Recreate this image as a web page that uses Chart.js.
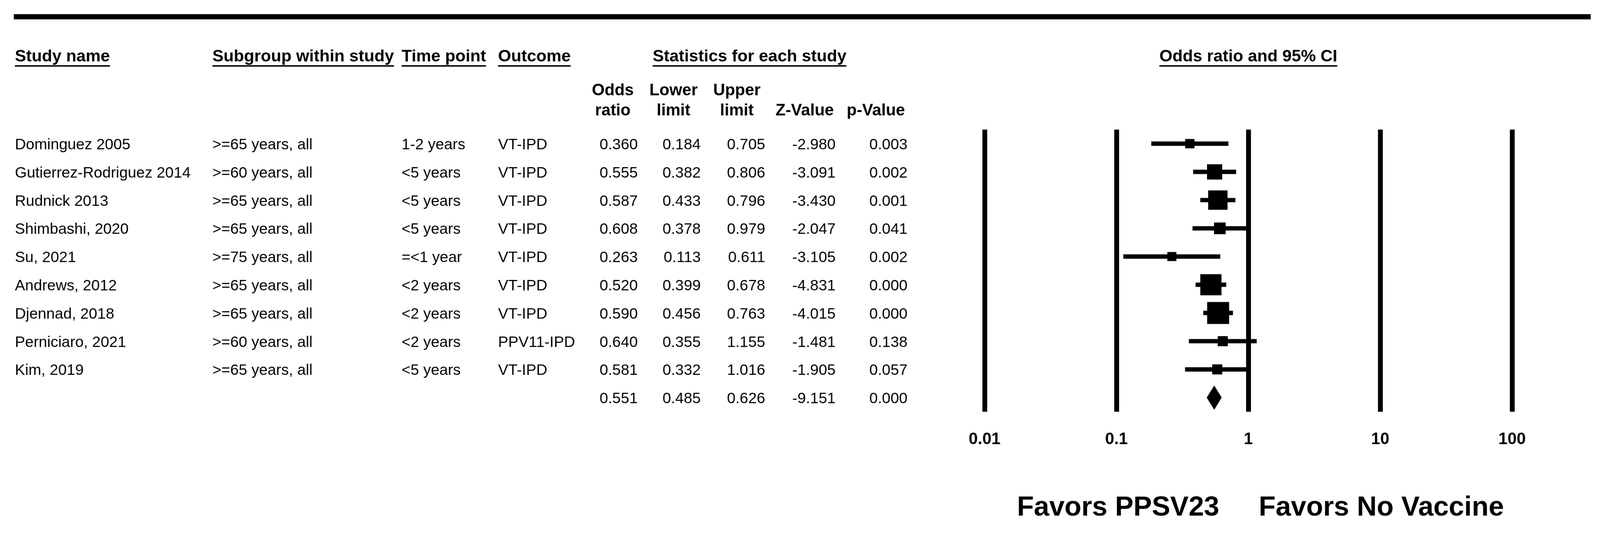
<!DOCTYPE html>
<html lang="en">
<head>
<meta charset="UTF-8">
<title>Odds ratio and 95% CI</title>
<script src="https://cdn.jsdelivr.net/npm/chart.js"></script>
<style>
    html, body {
        margin: 0;
        padding: 0;
        overflow: hidden;
        background: #fff;
    }
    canvas {
        display: block;
    }
</style>
</head>
<body>
<!-- inline size so Chart.js keeps it: fill the width, keep the 4295x1419 proportions -->
<canvas id="forest" width="4295" height="1419" style="width:100vw;height:calc(100vw * 1419 / 4295)"></canvas>
<script>
    // study rows, top to bottom
    var studies = ['Dominguez 2005', 'Gutierrez-Rodriguez 2014', 'Rudnick 2013', 'Shimbashi, 2020', 'Su, 2021',
        'Andrews, 2012', 'Djennad, 2018', 'Perniciaro, 2021', 'Kim, 2019'];
    var subgroups = ['>=65 years, all', '>=60 years, all', '>=65 years, all', '>=65 years, all', '>=75 years, all',
        '>=65 years, all', '>=65 years, all', '>=60 years, all', '>=65 years, all'];
    var timePoints = ['1-2 years', '<5 years', '<5 years', '<5 years', '=<1 year',
        '<2 years', '<2 years', '<2 years', '<5 years'];
    var outcomes = ['VT-IPD', 'VT-IPD', 'VT-IPD', 'VT-IPD', 'VT-IPD', 'VT-IPD', 'VT-IPD', 'PPV11-IPD', 'VT-IPD'];
    var oddsRatio = [0.360, 0.555, 0.587, 0.608, 0.263, 0.520, 0.590, 0.640, 0.581];
    var lowerLimit = [0.184, 0.382, 0.433, 0.378, 0.113, 0.399, 0.456, 0.355, 0.332];
    var upperLimit = [0.705, 0.806, 0.796, 0.979, 0.611, 0.678, 0.763, 1.155, 1.016];
    var zValue = [-2.980, -3.091, -3.430, -2.047, -3.105, -4.831, -4.015, -1.481, -1.905];
    var pValue = [0.003, 0.002, 0.001, 0.041, 0.002, 0.000, 0.000, 0.138, 0.057];
    // relative weight (box area)
    var relWeight = [0.18, 0.48, 0.78, 0.28, 0.17, 0.93, 1.00, 0.21, 0.21];
    // pooled row: odds ratio, lower, upper, Z, p
    var pooled = [0.551, 0.485, 0.626, -9.151, 0.000];

    var tickValues = [0.01, 0.1, 1, 10, 100];
    var tickLabels = ['0.01', '0.1', '1', '10', '100'];

    var FONT = "'Liberation Sans', Arial, sans-serif";
    var colText = [40, 570, 1078, 1337];
    var colNum = [1712, 1881, 2054, 2243, 2436];
    var colHead = [1645, 1808, 1978, 2160, 2351];
    var headLine1 = ['Odds', 'Lower', 'Upper', '', ''];
    var headLine2 = ['ratio', 'limit', 'limit', 'Z-Value', 'p-Value'];

    function underlined(ctx, text, x, y, align) {
        ctx.textAlign = align || 'left';
        ctx.fillText(text, x, y);
        var w = ctx.measureText(text).width;
        var x0 = align === 'center' ? x - w / 2 : x;
        ctx.fillRect(x0, y + 10, w, 4);
    }

    var tablePlugin = {
        id: 'table',
        afterDraw: function (chart) {
            var ctx = chart.ctx;
            var ys = chart.scales.y;
            var xs = chart.scales.x;
            var px1 = xs.getPixelForValue(1);
            ctx.save();
            ctx.fillStyle = '#000';
            ctx.textBaseline = 'alphabetic';

            // heavy rule on top
            ctx.fillRect(37, 38, 4233, 14);

            ctx.font = 'bold 45px ' + FONT;
            underlined(ctx, 'Study name', colText[0], 165);
            underlined(ctx, 'Subgroup within study', colText[1], 165);
            underlined(ctx, 'Time point', colText[2], 165);
            underlined(ctx, 'Outcome', colText[3], 165);
            underlined(ctx, 'Statistics for each study', 1752, 165);
            underlined(ctx, 'Odds ratio and 95% CI', px1, 165, 'center');

            ctx.font = 'bold 44px ' + FONT;
            ctx.textAlign = 'center';
            for (var c = 0; c < colHead.length; c++) {
                ctx.fillText(headLine1[c], colHead[c], 256);
                ctx.fillText(headLine2[c], colHead[c], 310);
            }

            ctx.font = '41px ' + FONT;
            for (var i = 0; i <= studies.length; i++) {
                var base = ys.getPixelForValue(i) + 15;
                var nums;
                if (i < studies.length) {
                    ctx.textAlign = 'left';
                    ctx.fillText(studies[i], colText[0], base);
                    ctx.fillText(subgroups[i], colText[1], base);
                    ctx.fillText(timePoints[i], colText[2], base);
                    ctx.fillText(outcomes[i], colText[3], base);
                    nums = [oddsRatio[i], lowerLimit[i], upperLimit[i], zValue[i], pValue[i]];
                } else {
                    nums = pooled;
                }
                ctx.textAlign = 'right';
                for (var k = 0; k < nums.length; k++) {
                    ctx.fillText(nums[k].toFixed(3), colNum[k], base);
                }
            }

            ctx.font = 'bold 74px ' + FONT;
            ctx.textAlign = 'right';
            ctx.fillText('Favors PPSV23', px1 - 78, 1385);
            ctx.textAlign = 'left';
            ctx.fillText('Favors No Vaccine', px1 + 28, 1385);
            ctx.restore();
        }
    };

    var row = studies.length;
    var diamond = [
        {x: pooled[1], y: row},
        {x: pooled[0], y: row - 0.42},
        {x: pooled[2], y: row},
        {x: pooled[0], y: row + 0.42},
        {x: pooled[1], y: row}
    ];

    new Chart(document.getElementById('forest'), {
        type: 'bar',
        data: {
            datasets: [{
                type: 'scatter',
                data: oddsRatio.map(function (v, i) { return {x: v, y: i}; }),
                pointStyle: 'rect',
                pointRadius: relWeight.map(function (w) { return 59 * Math.sqrt(w) / Math.SQRT2; }),
                backgroundColor: '#000',
                borderWidth: 0
            }, {
                type: 'bar',
                data: lowerLimit.map(function (v, i) { return {x: [v, upperLimit[i]], y: i}; }),
                backgroundColor: '#000',
                barThickness: 11,
                grouped: false
            }, {
                type: 'line',
                data: diamond,
                fill: 'shape',
                backgroundColor: '#000',
                borderColor: '#000',
                borderWidth: 1,
                pointRadius: 0,
                tension: 0
            }]
        },
        options: {
            indexAxis: 'y',
            responsive: false,
            devicePixelRatio: 1,
            animation: false,
            events: [],
            layout: {padding: {left: 2643, right: 236, top: 348, bottom: 0}},
            plugins: {legend: {display: false}, tooltip: {enabled: false}},
            scales: {
                x: {
                    type: 'logarithmic',
                    min: 0.01,
                    max: 100,
                    position: 'bottom',
                    border: {display: false},
                    grid: {color: '#000', lineWidth: 13, drawTicks: false},
                    ticks: {
                        color: '#000',
                        font: {family: FONT, size: 44, weight: 'bold'},
                        padding: 48,
                        autoSkip: false,
                        maxRotation: 0,
                        callback: function (v, i) { return tickLabels[i]; }
                    },
                    afterBuildTicks: function (s) {
                        s.ticks = tickValues.map(function (v) { return {value: v, major: true}; });
                    },
                    afterFit: function (s) { s.height = 313; }
                },
                y: {
                    type: 'linear',
                    min: -0.5,
                    max: 9.5,
                    reverse: true,
                    offset: false,
                    display: false
                }
            }
        },
        plugins: [tablePlugin]
    });
</script>
</body>
</html>
